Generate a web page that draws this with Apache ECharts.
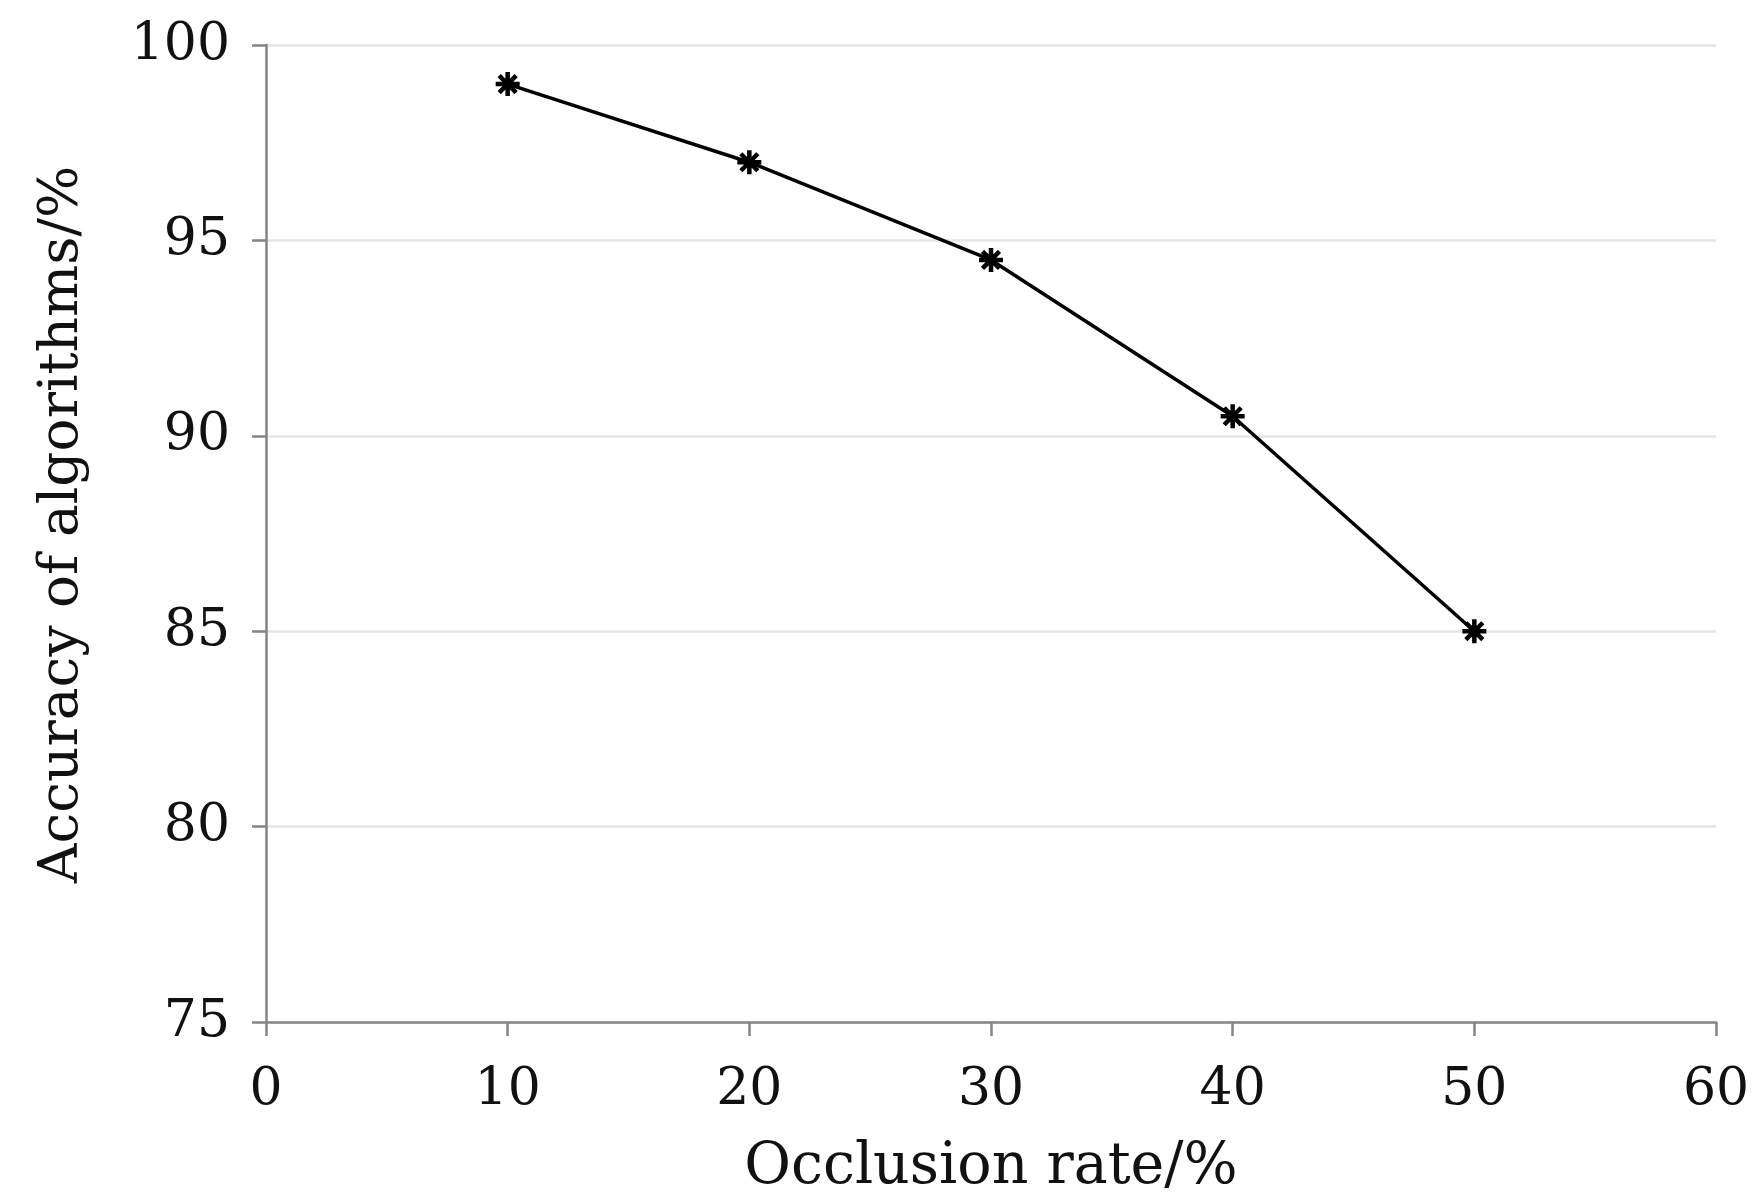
<!DOCTYPE html>
<html>
<head>
<meta charset="utf-8">
<script src="https://cdn.jsdelivr.net/npm/echarts@6/dist/echarts.min.js"></script>
<style>html,body{margin:0;padding:0;background:#fff}#c{width:1758px;height:1204px}</style>
</head>
<body>
<div id="c"></div>
<script>
const occlusionRates = [10, 20, 30, 40, 50];
const accuracyValues = [99, 97, 94.5, 90.5, 85];
const xAxisTitle = 'Occlusion rate/%';
const yAxisTitle = 'Accuracy of algorithms/%';

const FONT = '"DejaVu Serif", "Liberation Serif", serif';
const chart = echarts.init(document.getElementById('c'));
chart.setOption({
  backgroundColor: '#fff',
  animation: false,
  grid: { left: 266, right: 42, top: 45, bottom: 182 },
  xAxis: {
    type: 'value', min: 0, max: 60, interval: 10,
    name: xAxisTitle, nameLocation: 'middle', nameGap: 118,
    nameTextStyle: { fontFamily: FONT, fontSize: 57, color: '#111' },
    axisLine: { show: true, lineStyle: { color: '#858585', width: 2.5 } },
    axisTick: { show: true, inside: false, length: 14, lineStyle: { color: '#858585', width: 2.5 } },
    axisLabel: { fontFamily: FONT, fontSize: 52, color: '#111', margin: 42 },
    splitLine: { show: false }
  },
  yAxis: {
    type: 'value', min: 75, max: 100, interval: 5,
    name: yAxisTitle, nameLocation: 'middle', nameGap: 176, nameRotate: 90,
    nameTextStyle: { fontFamily: FONT, fontSize: 55, color: '#111', padding: [0, 0, 0, 18] },
    axisLine: { show: true, lineStyle: { color: '#858585', width: 2.5 } },
    axisTick: { show: true, inside: false, length: 14, lineStyle: { color: '#858585', width: 2.5 } },
    axisLabel: { fontFamily: FONT, fontSize: 52, color: '#111', margin: 36 },
    splitLine: { show: true, lineStyle: { color: '#e6e6e6', width: 2.5 } }
  },
  series: [{
    type: 'line',
    data: occlusionRates.map((x, i) => [x, accuracyValues[i]]),
    lineStyle: { color: '#000', width: 3.5 },
    symbol: 'path://M0,-10L0,10M-10,0L10,0M-7.07,-7.07L7.07,7.07M-7.07,7.07L7.07,-7.07',
    symbolSize: 24,
    symbolKeepAspect: true,
    itemStyle: { color: '#000', borderColor: '#000', borderWidth: 4.5 },
    z: 3
  }]
});
</script>
</body>
</html>
